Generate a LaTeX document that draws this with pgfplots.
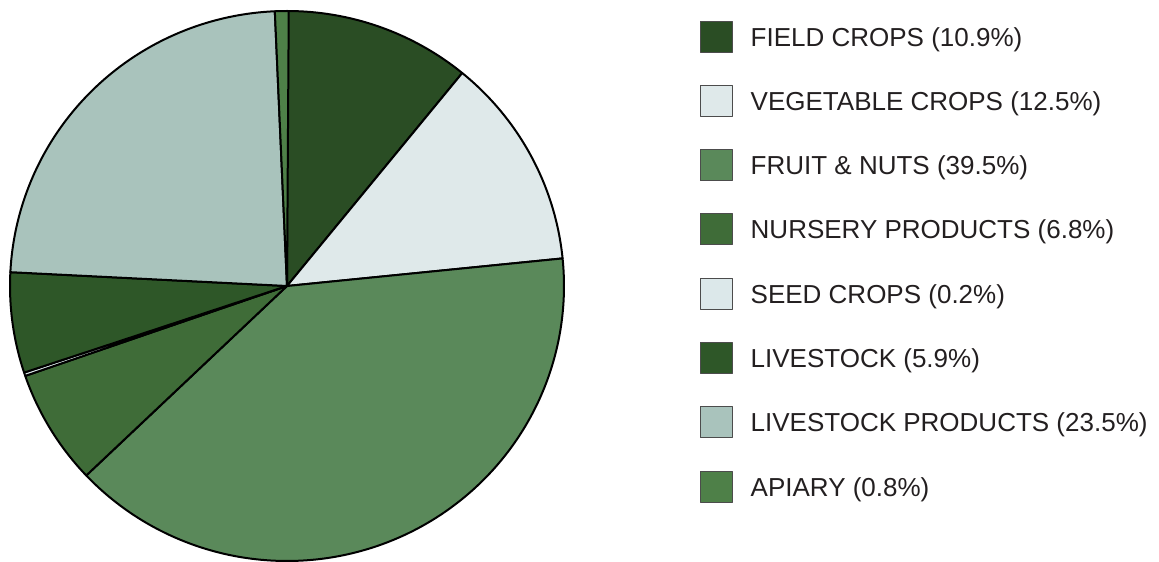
\documentclass[border=0pt]{standalone}
\usepackage{pgfplots}
\pgfplotsset{compat=1.18}
\usepackage{fontspec}
\setmainfont{Liberation Sans}
\definecolor{cField}{HTML}{2A4D24}
\definecolor{cVeg}{HTML}{DFE9EA}
\definecolor{cFruit}{HTML}{5A895A}
\definecolor{cNursery}{HTML}{3F6C38}
\definecolor{cSeed}{HTML}{DCE8EA}
\definecolor{cLive}{HTML}{2E5728}
\definecolor{cLiveProd}{HTML}{A9C3BC}
\definecolor{cApiary}{HTML}{4E8048}
\definecolor{txt}{HTML}{231F20}
% shares in percent, clockwise from the top
\def\curang{90}
\newcommand{\slice}[3]{%
  \pgfmathsetmacro{\endang}{\curang-3.6*#1}%
  \edef\doplot{\noexpand\addplot[fill=#2, draw=black, line width=2pt, line join=round, domain=\endang:\curang, samples=150]
    ({cos(x)},{sin(x)}) -- (axis cs:0,0) -- cycle;}%
  \doplot
  \addlegendentry{#3}%
  \xdef\curang{\endang}%
}
\begin{document}
\begin{tikzpicture}[x=1pt,y=1pt]
\useasboundingbox (0,0) rectangle (1159,562);
\begin{axis}[
  at={(10pt,1pt)}, anchor=south west,
  scale only axis, width=554pt, height=550pt,
  xmin=-1, xmax=1, ymin=-1, ymax=1,
  hide axis, clip=false,
  legend cell align=left,
  legend image code/.code={\draw[#1, draw=black!70, line width=0.7pt] (0pt,-14.5pt) rectangle (32pt,16.5pt);},
  legend style={at={(1.2455,0.9826)}, anchor=north west, draw=none, fill=none,
    inner sep=0pt, outer sep=0pt, row sep=32.6pt, column sep=18pt,
    font=\fontsize{26.0}{30}\selectfont, text=txt,
    nodes={inner sep=0pt, outer sep=0pt}},
]
\slice{10.9}{cField}{FIELD CROPS (10.9\%)}
\slice{12.5}{cVeg}{VEGETABLE CROPS (12.5\%)}
\slice{39.5}{cFruit}{FRUIT \& NUTS (39.5\%)}
\slice{6.8}{cNursery}{NURSERY PRODUCTS (6.8\%)}
\slice{0.2}{cSeed}{SEED CROPS (0.2\%)}
\slice{5.9}{cLive}{LIVESTOCK (5.9\%)}
\slice{23.5}{cLiveProd}{LIVESTOCK PRODUCTS (23.5\%)}
\slice{0.8}{cApiary}{APIARY (0.8\%)}
\end{axis}
\end{tikzpicture}
\end{document}
